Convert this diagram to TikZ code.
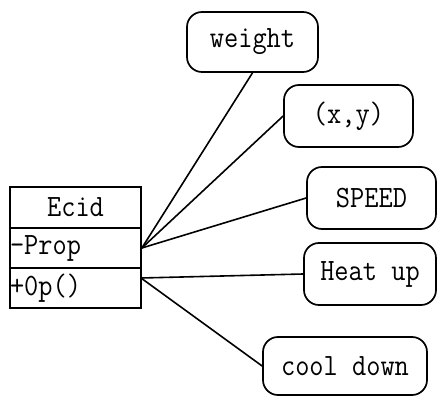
\documentclass[tikz,border=0pt]{standalone}
\usepackage{fontspec}
\setmonofont[FakeStretch=0.89]{Latin Modern Mono}
\begin{document}
\begin{tikzpicture}[x=1pt,y=-1pt,
  every node/.style={font=\ttfamily\fontsize{31}{33}\selectfont},
  attr/.style={draw,line width=1.7pt,rounded corners=15pt,inner sep=0pt},
  cell/.style={draw,line width=1.7pt,inner sep=0pt,minimum width=131pt},
  link/.style={line width=1.6pt}]
\useasboundingbox (0,0) rectangle (437,396);

% class box
\node[cell,minimum height=41pt] (cls) at (75.5,207.5) {Ecid};
\node[cell,minimum height=40pt,text width=131pt,align=left,inner xsep=0pt] (prop) at (75.5,248) {-Prop};
\node[cell,minimum height=40pt,text width=131pt,align=left,inner xsep=0pt] (op) at (75.5,288) {+0p()};
\coordinate (opfan) at (141,278);

% attribute boxes
\node[attr,minimum width=131pt,minimum height=60pt] (weight) at (252.5,42) {weight};
\node[attr,minimum width=129pt,minimum height=62pt] (xy) at (348.5,116) {(x,y)};
\node[attr,minimum width=129pt,minimum height=62pt] (speed) at (371.5,198) {SPEED};
\node[attr,minimum width=132pt,minimum height=62pt] (heat) at (370,274) {Heat up};
\node[attr,minimum width=164pt,minimum height=58pt] (cool) at (345,366) {cool down};

% connectors
\draw[link] (prop.east) -- (weight.south);
\draw[link] (prop.east) -- (xy.west);
\draw[link] (prop.east) -- (speed.west);
\draw[link] (opfan) -- (heat.west);
\draw[link] (opfan) -- (cool.west);
\end{tikzpicture}
\end{document}
